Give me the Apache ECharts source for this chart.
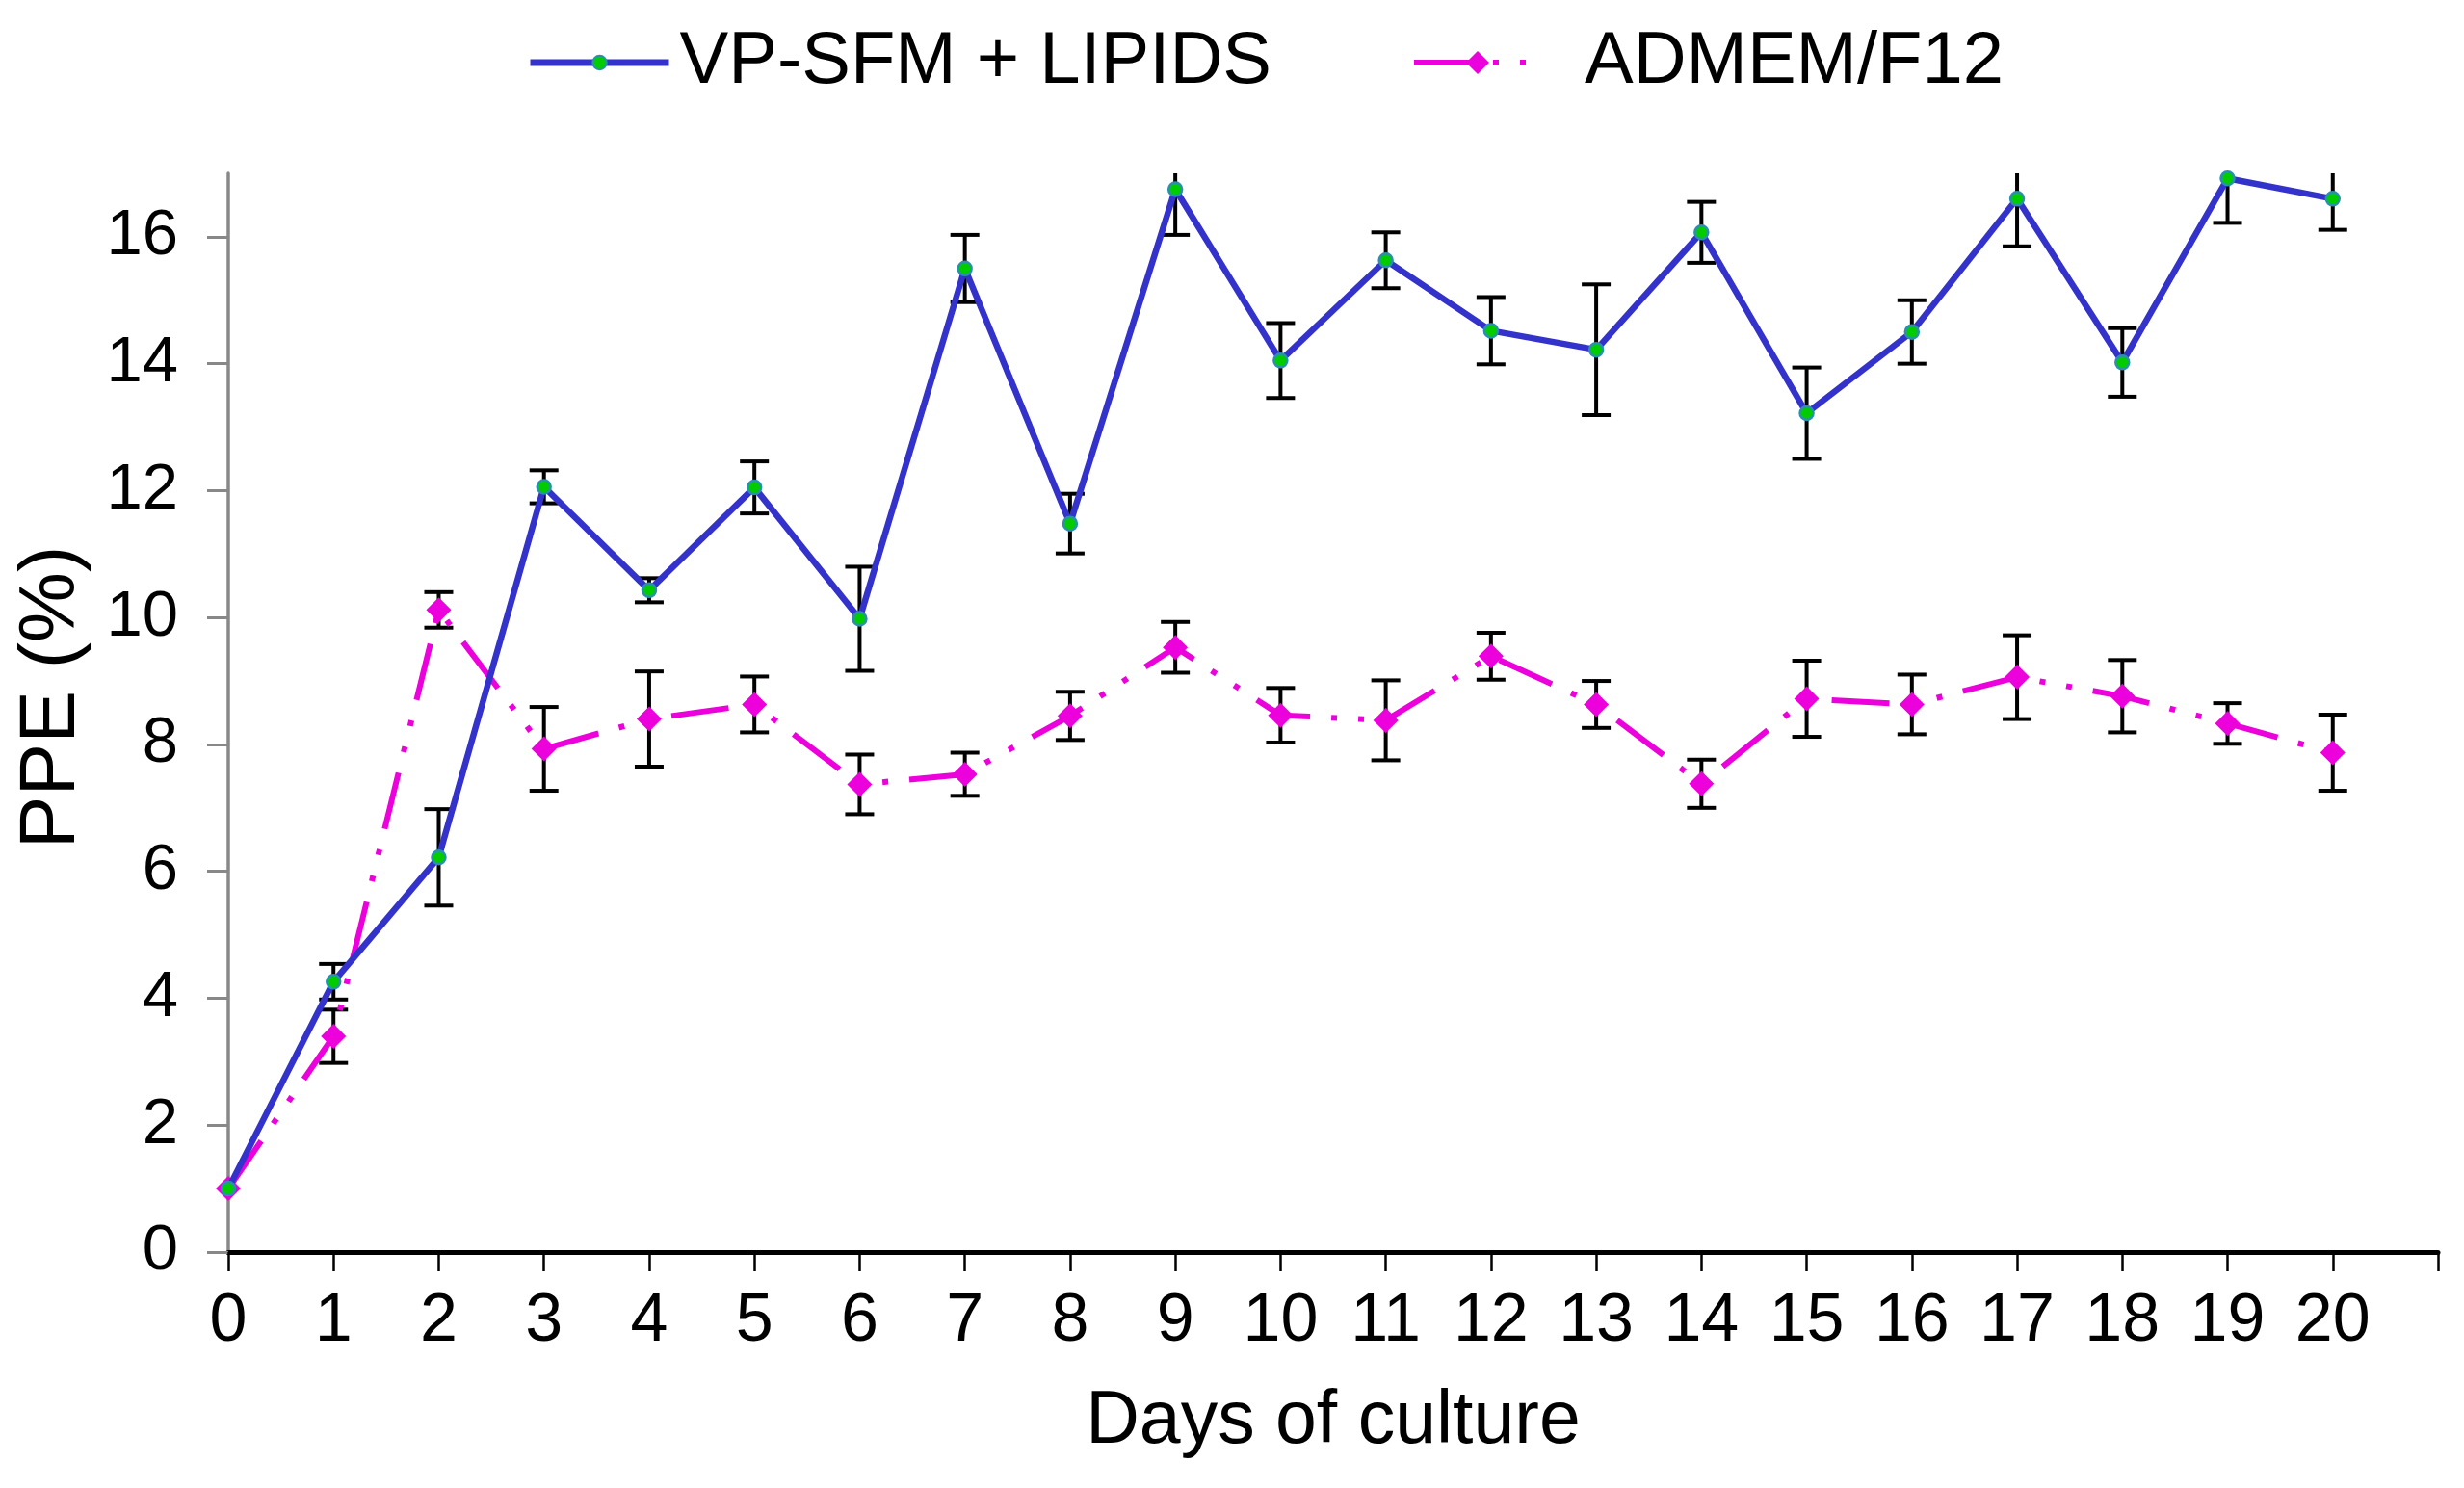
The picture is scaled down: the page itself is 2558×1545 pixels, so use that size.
<!DOCTYPE html>
<html>
<head>
<meta charset="utf-8">
<script src="https://cdn.jsdelivr.net/npm/echarts@6/dist/echarts.min.js"></script>
<style>
html,body{margin:0;padding:0;background:#fff;}
#c{width:2558px;height:1545px;}
</style>
</head>
<body>
<div id="c"></div>
<script>
const days = [0,1,2,3,4,5,6,7,8,9,10,11,12,13,14,15,16,17,18,19,20];
const vpSfm    = [1.0, 4.26, 6.22, 12.06, 10.43, 12.05, 9.98, 15.5, 11.48, 16.75, 14.05, 15.63, 14.52, 14.22, 16.07, 13.22, 14.5, 16.6, 14.02, 16.92, 16.6];
const vpSfmErr = [0, 0.28, 0.76, 0.26, 0.19, 0.41, 0.82, 0.53, 0.47, 0.72, 0.59, 0.44, 0.53, 1.03, 0.48, 0.72, 0.5, 0.75, 0.54, 0.7, 0.49];
const admem    = [1.0, 3.4, 10.12, 7.93, 8.4, 8.63, 7.37, 7.53, 8.45, 9.53, 8.46, 8.38, 9.39, 8.63, 7.38, 8.72, 8.63, 9.06, 8.76, 8.33, 7.87];
const admemErr = [0, 0.42, 0.28, 0.66, 0.75, 0.44, 0.47, 0.34, 0.38, 0.4, 0.43, 0.63, 0.37, 0.37, 0.38, 0.6, 0.47, 0.66, 0.57, 0.32, 0.6];
const yTicks = [0,2,4,6,8,10,12,14,16];
const xTicks = days;

const NAME1 = 'VP-SFM + LIPIDS';
const NAME2 = 'ADMEM/F12';
const BLUE = '#3333cc';
const PINK = '#ec00dc';
const FONT = 'Liberation Sans, Arial, sans-serif';
const NARROW = 'Liberation Sans Narrow, Liberation Sans, Arial, sans-serif';

function errData(vals, errs){
  return days.map((d,i)=>[d, vals[i]-errs[i], vals[i]+errs[i], errs[i]]);
}
function renderErr(params, api){
  const err = api.value(3);
  if (!err) return null;
  const x = api.value(0);
  const lo = api.coord([x, api.value(1)]);
  const hi = api.coord([x, api.value(2)]);
  const w = 15;
  const style = {stroke:'#000', lineWidth:4};
  return {type:'group', children:[
    {type:'line', shape:{x1:lo[0], y1:lo[1], x2:hi[0], y2:hi[1]}, style},
    {type:'line', shape:{x1:lo[0]-w, y1:lo[1], x2:lo[0]+w, y2:lo[1]}, style},
    {type:'line', shape:{x1:hi[0]-w, y1:hi[1], x2:hi[0]+w, y2:hi[1]}, style}
  ]};
}

const chart = echarts.init(document.getElementById('c'), null, {renderer:'canvas'});
chart.setOption({
  animation:false,
  backgroundColor:'#fff',
  legend:[
    {data:[NAME1], left:542, top:22, itemWidth:144, itemHeight:18, itemGap:0,
     lineStyle:{width:7},
     textStyle:{fontFamily:FONT, fontSize:76, color:'#000', padding:[0,0,0,6]}},
    {data:[NAME2], left:1460, top:22, itemWidth:132, itemHeight:30, itemGap:0,
     lineStyle:{width:6},
     textStyle:{fontFamily:FONT, fontSize:76, color:'#000', padding:[0,0,0,40]}}
  ],
  grid:{left:237, right:27, top:180, bottom:245},
  xAxis:{
    type:'value', min:0, max:21, interval:1,
    name:'Days of culture', nameLocation:'middle', nameGap:138,
    nameTextStyle:{fontFamily:FONT, fontSize:77, color:'#000'},
    axisLine:{show:true, lineStyle:{color:'#000', width:5}},
    axisTick:{show:true, length:20, lineStyle:{color:'#000', width:2.5}},
    axisLabel:{fontFamily:NARROW, fontSize:70, color:'#000', margin:38,
      formatter:v=> xTicks.indexOf(v) >= 0 ? String(v) : ''},
    splitLine:{show:false}
  },
  yAxis:{
    type:'value', min:0, max:17, interval:2,
    name:'PPE (%)', nameLocation:'middle', nameGap:142, nameRotate:90,
    nameTextStyle:{fontFamily:FONT, fontSize:82, color:'#000', padding:[0,0,0,32]},
    axisLine:{show:true, lineStyle:{color:'#888', width:3.5}},
    axisTick:{show:true, length:22, lineStyle:{color:'#888', width:3}, customValues:yTicks},
    axisLabel:{fontFamily:FONT, fontSize:67, color:'#000', margin:52, customValues:yTicks},
    splitLine:{show:false}
  },
  series:[
    {type:'custom', name:'err1', z:1, clip:true, renderItem:renderErr, data:errData(vpSfm, vpSfmErr), encode:{x:0,y:[1,2]}, silent:true},
    {type:'custom', name:'err2', z:1, clip:true, renderItem:renderErr, data:errData(admem, admemErr), encode:{x:0,y:[1,2]}, silent:true},
    {type:'line', name:NAME1, z:3, data:days.map((d,i)=>[d, vpSfm[i]]),
     lineStyle:{color:BLUE, width:6.5},
     symbol:'circle', symbolSize:14,
     itemStyle:{color:'#00cc00', borderColor:'#2a8fb0', borderWidth:2.5}},
    {type:'line', name:NAME2, z:2, data:days.map((d,i)=>[d, admem[i]]),
     lineStyle:{color:PINK, width:6, type:[60,22,6,22,6,22]},
     symbol:'diamond', symbolSize:26,
     itemStyle:{color:PINK, borderWidth:0}}
  ]
});
</script>
</body>
</html>
